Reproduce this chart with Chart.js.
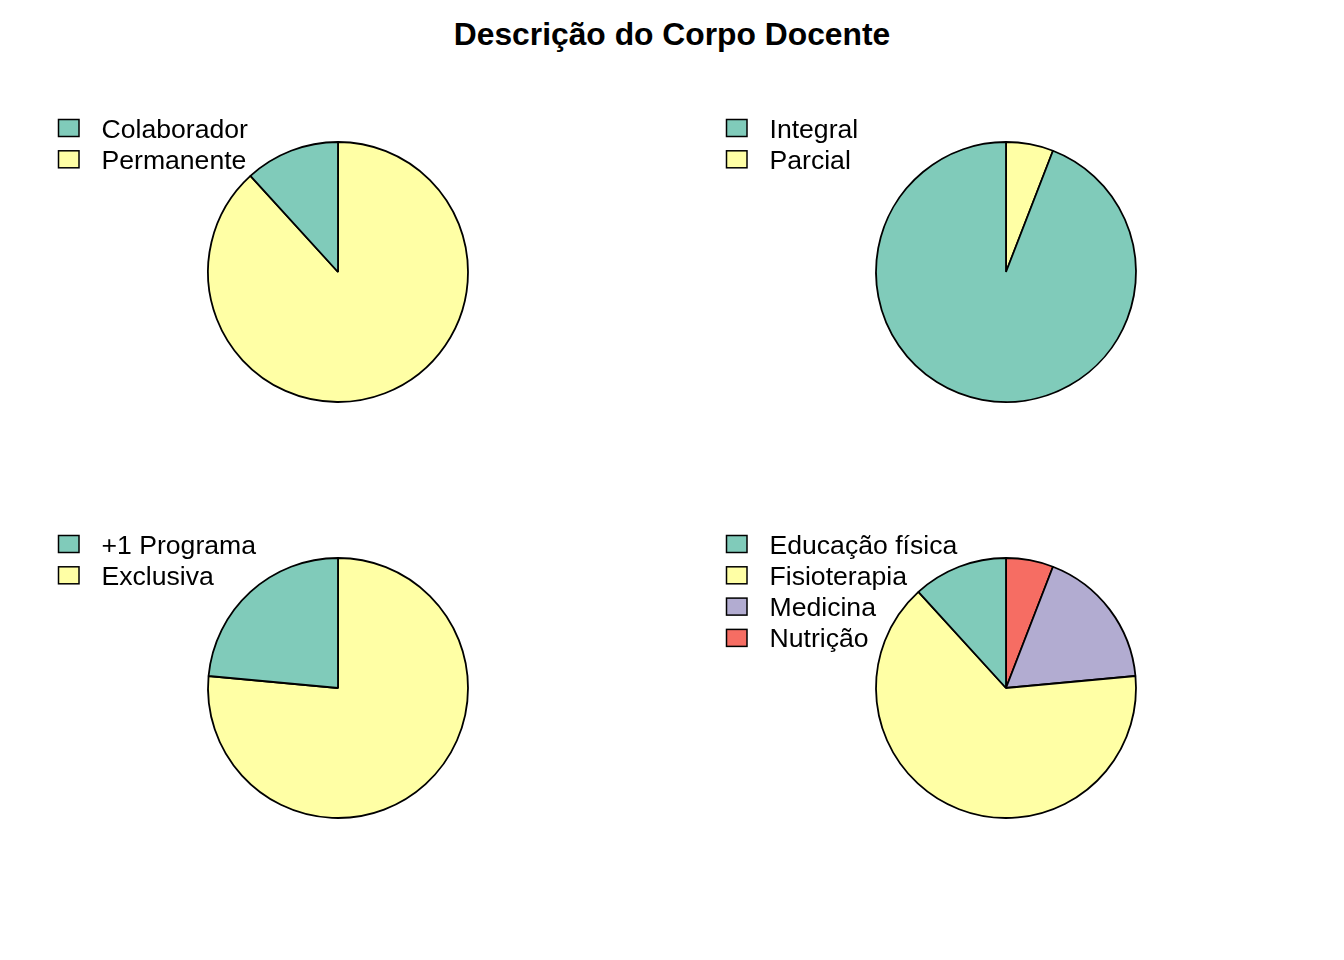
<!DOCTYPE html>
<html>
<head>
<meta charset="utf-8">
<script src="https://cdn.jsdelivr.net/npm/chart.js@4/dist/chart.umd.min.js"></script>
<style>
  html, body { margin:0; padding:0; background:#ffffff; }
  #page { position:relative; width:1344px; height:960px; overflow:hidden; background:#ffffff; }
  #title { position:absolute; left:0; top:18px; width:1344px; text-align:center;
           font-family:"Liberation Sans", Arial, sans-serif; font-weight:bold; font-size:31.8px;
           line-height:32px; color:#000; }
  canvas.panel { position:absolute; }
</style>
</head>
<body>
<div id="page">
  <div id="title">Descrição do Corpo Docente</div>
  <canvas class="panel" id="c1" width="668" height="416" style="left:0px;top:64px;"></canvas>
  <canvas class="panel" id="c2" width="668" height="416" style="left:668px;top:64px;"></canvas>
  <canvas class="panel" id="c3" width="668" height="416" style="left:0px;top:480px;"></canvas>
  <canvas class="panel" id="c4" width="668" height="416" style="left:668px;top:480px;"></canvas>
</div>
<script>
// ---- data ----
const vinculoLabels   = ['Colaborador', 'Permanente'];
const vinculoValues   = [2, 15];
const regimeLabels    = ['Integral', 'Parcial'];
const regimeValues    = [16, 1];
const dedicacaoLabels = ['+1 Programa', 'Exclusiva'];
const dedicacaoValues = [4, 13];
const formacaoLabels  = ['Educação física', 'Fisioterapia', 'Medicina', 'Nutrição'];
const formacaoValues  = [2, 11, 3, 1];
const palette = ['#80CBBA', '#FFFFA5', '#B2ACD1', '#F66D63'];

// legend drawn at R-like positions inside each panel
const panelLegend = {
  id: 'panelLegend',
  afterDraw(chart, args, opts) {
    const ctx = chart.ctx;
    ctx.save();
    ctx.font = '26.6px "Liberation Sans", Arial, sans-serif';
    ctx.textBaseline = 'alphabetic';
    ctx.textAlign = 'left';
    opts.labels.forEach((lab, i) => {
      const base = 73.5 + i * 31.3;
      ctx.fillStyle = opts.colors[i];
      ctx.fillRect(58.5, base - 18, 20.5, 17);
      ctx.lineWidth = 1.5;
      ctx.strokeStyle = '#000000';
      ctx.strokeRect(58.5, base - 18, 20.5, 17);
      ctx.fillStyle = '#000000';
      ctx.fillText(lab, 101.5, base);
    });
    ctx.restore();
  }
};

function makePie(id, labels, values) {
  const colors = palette.slice(0, labels.length);
  // R draws counter-clockwise from 12 o'clock; Chart.js goes clockwise, so reverse.
  const dLabels = labels.slice().reverse();
  const dValues = values.slice().reverse();
  const dColors = colors.slice().reverse();
  new Chart(document.getElementById(id), {
    type: 'pie',
    data: {
      labels: dLabels,
      datasets: [{
        data: dValues,
        backgroundColor: dColors,
        borderColor: '#000000',
        borderWidth: 1.8
      }]
    },
    options: {
      responsive: false,
      animation: false,
      events: [],
      radius: 130,
      layout: { padding: { left: 48, right: 40, top: 48, bottom: 48 } },
      plugins: {
        legend: { display: false },
        tooltip: { enabled: false },
        panelLegend: { labels: labels, colors: colors }
      }
    },
    plugins: [panelLegend]
  });
}

makePie('c1', vinculoLabels, vinculoValues);
makePie('c2', regimeLabels, regimeValues);
makePie('c3', dedicacaoLabels, dedicacaoValues);
makePie('c4', formacaoLabels, formacaoValues);
</script>
</body>
</html>
